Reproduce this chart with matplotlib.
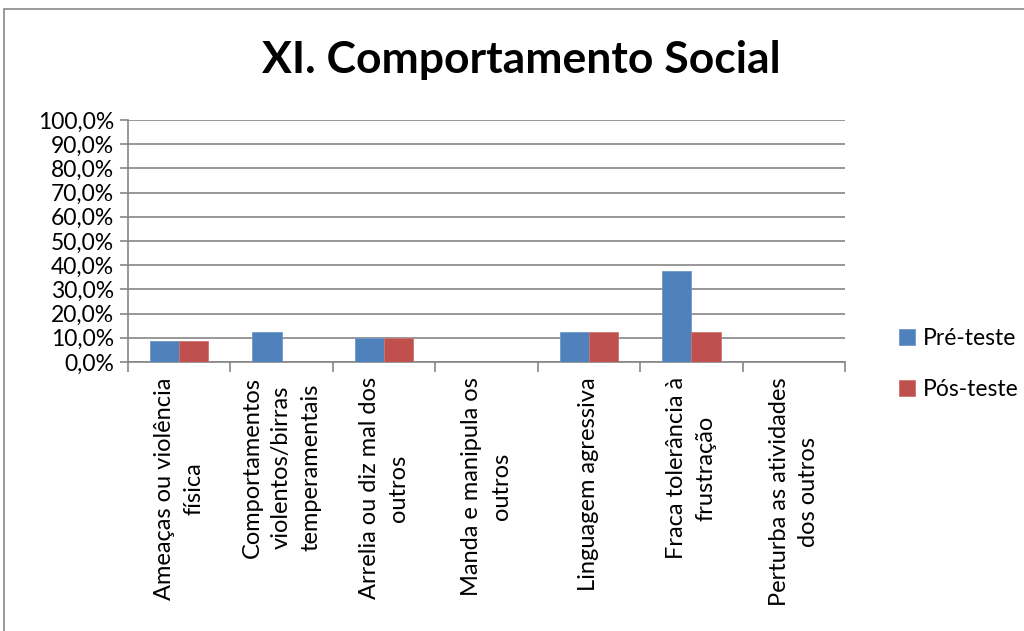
import numpy as np
import matplotlib
matplotlib.use("Agg")
import matplotlib.pyplot as plt
from matplotlib.ticker import FixedLocator, FuncFormatter
from matplotlib.patches import Rectangle

categories = [
    "Ameaças ou violência\nfísica",
    "Comportamentos\nviolentos/birras\ntemperamentais",
    "Arrelia ou diz mal dos\noutros",
    "Manda e manipula os\noutros",
    "Linguagem agressiva",
    "Fraca tolerância à\nfrustração",
    "Perturba as atividades\ndos outros",
]
pre_teste = [8.7, 12.5, 10.0, 0.0, 12.5, 37.5, 0.0]
pos_teste = [8.7, 0.0, 10.0, 0.0, 12.5, 12.5, 0.0]

BLUE = "#4F81BD"
RED = "#C0504D"
GRID = "#868686"

plt.rcParams["font.family"] = ["Lato", "DejaVu Sans"]

fig = plt.figure(figsize=(10.24, 6.31), dpi=100)
ax = fig.add_axes([128 / 1024, 1 - 362 / 631, 717 / 1024, 242 / 631])

# outer chart frame
fig.patches.append(Rectangle((4 / 1024, -0.01), 1.1, 1 - 9 / 631 + 0.01,
                             transform=fig.transFigure, fill=False,
                             edgecolor="#888888", lw=1.2))

x = np.arange(len(categories))
w = 1 / 3.5
ax.bar(x - w / 2, pre_teste, w, color=BLUE, edgecolor="#6f97c8", lw=0.6,
       label="Pré-teste", zorder=3)
ax.bar(x + w / 2, pos_teste, w, color=RED, edgecolor="#cc7472", lw=0.6,
       label="Pós-teste", zorder=3)

ax.set_xlim(-0.5, len(categories) - 0.5)
ax.set_ylim(0, 100)
ax.yaxis.set_major_locator(FixedLocator(np.arange(0, 101, 10)))
ax.yaxis.set_major_formatter(FuncFormatter(lambda v, _: f"{v:.1f}%".replace(".", ",")))
ax.grid(axis="y", color=GRID, lw=1.2, zorder=0)

ax.xaxis.set_major_locator(FixedLocator(np.arange(-0.5, len(categories), 1)))
ax.xaxis.set_major_formatter(FuncFormatter(lambda v, _: ""))
ax.xaxis.set_minor_locator(FixedLocator(x))
ax.set_xticklabels(categories, minor=True, rotation=90, ha="center", va="top",
                   multialignment="center", fontsize=17, linespacing=1.5)
ax.tick_params(axis="x", which="minor", length=0, pad=11)
ax.tick_params(axis="x", which="major", length=7, width=1.2, color=GRID)
ax.tick_params(axis="y", length=6, width=1.2, color=GRID, labelsize=16.5, pad=4)

for s in ["top", "right"]:
    ax.spines[s].set_visible(False)
for s in ["left", "bottom"]:
    ax.spines[s].set_color(GRID)
    ax.spines[s].set_linewidth(1.2)

fig.text(0.509, 1 - 60 / 631, "XI. Comportamento Social", ha="center",
         va="center", fontsize=32, fontweight="bold")

fig.legend(loc="center left", bbox_to_anchor=(878 / 1024, 1 - 364 / 631),
           frameon=False, fontsize=16.5, handlelength=0.7, handleheight=0.7,
           labelspacing=1.3, handletextpad=0.35)

fig.savefig("out.png", dpi=100)
